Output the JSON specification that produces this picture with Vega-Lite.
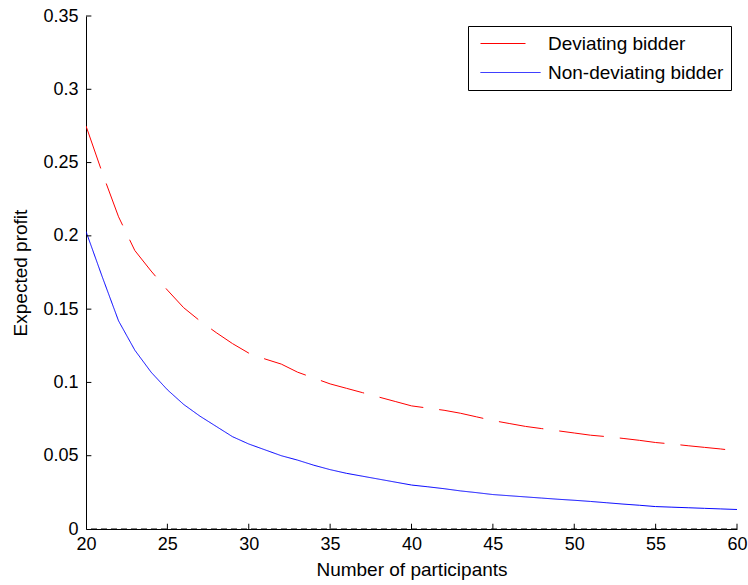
{
  "$schema": "https://vega.github.io/schema/vega-lite/v6.json",
  "width": 651,
  "height": 513,
  "autosize": {"type": "none"},
  "padding": {"left": 86, "top": 16, "right": 11, "bottom": 56},
  "background": "white",
  "config": {
    "view": {"stroke": null},
    "font": "Liberation Sans",
    "axis": {
      "grid": false,
      "domainColor": "#000000",
      "domainWidth": 1,
      "ticks": false,
      "tickSize": 0,
      "labelFont": "Liberation Sans",
      "labelFontSize": 18,
      "labelColor": "#000000",
      "titleFont": "Liberation Sans",
      "titleFontSize": 19,
      "titleFontWeight": "normal",
      "titleColor": "#000000"
    },
    "legend": {
      "labelFont": "Liberation Sans",
      "labelFontSize": 19,
      "labelColor": "#000000"
    }
  },
  "datasets": {
    "curves": [
      {"n": 20, "series": "Deviating bidder", "profit": 0.275},
      {"n": 21, "series": "Deviating bidder", "profit": 0.243},
      {"n": 22, "series": "Deviating bidder", "profit": 0.213},
      {"n": 23, "series": "Deviating bidder", "profit": 0.19},
      {"n": 24, "series": "Deviating bidder", "profit": 0.176},
      {"n": 25, "series": "Deviating bidder", "profit": 0.163},
      {"n": 26, "series": "Deviating bidder", "profit": 0.151},
      {"n": 27, "series": "Deviating bidder", "profit": 0.142},
      {"n": 28, "series": "Deviating bidder", "profit": 0.134},
      {"n": 29, "series": "Deviating bidder", "profit": 0.1265},
      {"n": 30, "series": "Deviating bidder", "profit": 0.12},
      {"n": 31, "series": "Deviating bidder", "profit": 0.116},
      {"n": 32, "series": "Deviating bidder", "profit": 0.1125},
      {"n": 33, "series": "Deviating bidder", "profit": 0.107},
      {"n": 34, "series": "Deviating bidder", "profit": 0.103},
      {"n": 35, "series": "Deviating bidder", "profit": 0.099},
      {"n": 36, "series": "Deviating bidder", "profit": 0.096},
      {"n": 37, "series": "Deviating bidder", "profit": 0.093},
      {"n": 38, "series": "Deviating bidder", "profit": 0.09},
      {"n": 39, "series": "Deviating bidder", "profit": 0.087},
      {"n": 40, "series": "Deviating bidder", "profit": 0.084},
      {"n": 41, "series": "Deviating bidder", "profit": 0.0825},
      {"n": 42, "series": "Deviating bidder", "profit": 0.081},
      {"n": 43, "series": "Deviating bidder", "profit": 0.079},
      {"n": 44, "series": "Deviating bidder", "profit": 0.0765},
      {"n": 45, "series": "Deviating bidder", "profit": 0.074},
      {"n": 46, "series": "Deviating bidder", "profit": 0.072},
      {"n": 47, "series": "Deviating bidder", "profit": 0.07},
      {"n": 48, "series": "Deviating bidder", "profit": 0.0685},
      {"n": 49, "series": "Deviating bidder", "profit": 0.067},
      {"n": 50, "series": "Deviating bidder", "profit": 0.0655},
      {"n": 51, "series": "Deviating bidder", "profit": 0.064},
      {"n": 52, "series": "Deviating bidder", "profit": 0.063},
      {"n": 53, "series": "Deviating bidder", "profit": 0.0618},
      {"n": 54, "series": "Deviating bidder", "profit": 0.0605},
      {"n": 55, "series": "Deviating bidder", "profit": 0.059},
      {"n": 56, "series": "Deviating bidder", "profit": 0.058},
      {"n": 57, "series": "Deviating bidder", "profit": 0.0568},
      {"n": 58, "series": "Deviating bidder", "profit": 0.0557},
      {"n": 59, "series": "Deviating bidder", "profit": 0.0546},
      {"n": 60, "series": "Deviating bidder", "profit": 0.0533},
      {"n": 20, "series": "Non-deviating bidder", "profit": 0.203},
      {"n": 21, "series": "Non-deviating bidder", "profit": 0.172},
      {"n": 22, "series": "Non-deviating bidder", "profit": 0.142},
      {"n": 23, "series": "Non-deviating bidder", "profit": 0.122},
      {"n": 24, "series": "Non-deviating bidder", "profit": 0.107},
      {"n": 25, "series": "Non-deviating bidder", "profit": 0.095},
      {"n": 26, "series": "Non-deviating bidder", "profit": 0.085},
      {"n": 27, "series": "Non-deviating bidder", "profit": 0.077},
      {"n": 28, "series": "Non-deviating bidder", "profit": 0.07},
      {"n": 29, "series": "Non-deviating bidder", "profit": 0.063},
      {"n": 30, "series": "Non-deviating bidder", "profit": 0.058},
      {"n": 31, "series": "Non-deviating bidder", "profit": 0.054},
      {"n": 32, "series": "Non-deviating bidder", "profit": 0.05},
      {"n": 33, "series": "Non-deviating bidder", "profit": 0.047},
      {"n": 34, "series": "Non-deviating bidder", "profit": 0.0435},
      {"n": 35, "series": "Non-deviating bidder", "profit": 0.0405},
      {"n": 36, "series": "Non-deviating bidder", "profit": 0.038},
      {"n": 37, "series": "Non-deviating bidder", "profit": 0.036},
      {"n": 38, "series": "Non-deviating bidder", "profit": 0.034},
      {"n": 39, "series": "Non-deviating bidder", "profit": 0.032},
      {"n": 40, "series": "Non-deviating bidder", "profit": 0.03},
      {"n": 41, "series": "Non-deviating bidder", "profit": 0.0288},
      {"n": 42, "series": "Non-deviating bidder", "profit": 0.0275},
      {"n": 43, "series": "Non-deviating bidder", "profit": 0.026},
      {"n": 44, "series": "Non-deviating bidder", "profit": 0.0248},
      {"n": 45, "series": "Non-deviating bidder", "profit": 0.0235},
      {"n": 46, "series": "Non-deviating bidder", "profit": 0.0227},
      {"n": 47, "series": "Non-deviating bidder", "profit": 0.0219},
      {"n": 48, "series": "Non-deviating bidder", "profit": 0.0211},
      {"n": 49, "series": "Non-deviating bidder", "profit": 0.0203},
      {"n": 50, "series": "Non-deviating bidder", "profit": 0.0196},
      {"n": 51, "series": "Non-deviating bidder", "profit": 0.0188},
      {"n": 52, "series": "Non-deviating bidder", "profit": 0.0179},
      {"n": 53, "series": "Non-deviating bidder", "profit": 0.017},
      {"n": 54, "series": "Non-deviating bidder", "profit": 0.0162},
      {"n": 55, "series": "Non-deviating bidder", "profit": 0.0153},
      {"n": 56, "series": "Non-deviating bidder", "profit": 0.0149},
      {"n": 57, "series": "Non-deviating bidder", "profit": 0.0145},
      {"n": 58, "series": "Non-deviating bidder", "profit": 0.0141},
      {"n": 59, "series": "Non-deviating bidder", "profit": 0.0137},
      {"n": 60, "series": "Non-deviating bidder", "profit": 0.0133}
    ],
    "zero": [{"level": 0}],
    "xticks": [{"t": 25}, {"t": 30}, {"t": 35}, {"t": 40}, {"t": 45}, {"t": 50}, {"t": 55}, {"t": 60}],
    "yticks": [{"t": 0.05}, {"t": 0.1}, {"t": 0.15}, {"t": 0.2}, {"t": 0.25}, {"t": 0.3}, {"t": 0.35}]
  },
  "layer": [
    {
      "data": {"name": "curves"},
      "mark": {"type": "line", "strokeWidth": 1, "clip": true},
      "encoding": {
        "x": {
          "field": "n",
          "type": "quantitative",
          "scale": {"domain": [20, 60], "nice": false, "zero": false},
          "axis": {
            "title": "Number of participants",
            "values": [20, 25, 30, 35, 40, 45, 50, 55, 60],
            "labelPadding": 6,
            "titlePadding": 7,
            "labelFlush": false
          }
        },
        "y": {
          "field": "profit",
          "type": "quantitative",
          "scale": {"domain": [0, 0.35], "nice": false},
          "axis": {
            "title": "Expected profit",
            "values": [0, 0.05, 0.1, 0.15, 0.2, 0.25, 0.3, 0.35],
            "labelExpr": "datum.value === 0 ? '0' : format(datum.value, '.2~f')",
            "labelPadding": 8,
            "titlePadding": 12
          }
        },
        "color": {
          "field": "series",
          "type": "nominal",
          "scale": {"domain": ["Deviating bidder", "Non-deviating bidder"], "range": ["#ff0000", "#0000ff"]},
          "legend": {
            "title": null,
            "orient": "none",
            "legendX": 382,
            "legendY": 10,
            "symbolType": "M-0.5,0H5.5",
            "symbolSize": 400,
            "symbolStrokeWidth": 1,
            "labelOffset": 52,
            "labelLimit": 0,
            "padding": 7,
            "rowPadding": 8,
            "strokeColor": "#000000",
            "fillColor": "#ffffff"
          }
        },
        "strokeDash": {
          "field": "series",
          "type": "nominal",
          "scale": {"domain": ["Deviating bidder", "Non-deviating bidder"], "range": [[45, 16], [1, 0]]},
          "legend": {
            "title": null,
            "orient": "none",
            "legendX": 382,
            "legendY": 10,
            "symbolType": "M-0.5,0H5.5",
            "symbolSize": 400,
            "symbolStrokeWidth": 1,
            "labelOffset": 52,
            "labelLimit": 0,
            "padding": 7,
            "rowPadding": 8,
            "strokeColor": "#000000",
            "fillColor": "#ffffff"
          }
        }
      }
    },
    {
      "data": {"name": "zero"},
      "mark": {"type": "rule", "color": "#000000", "strokeWidth": 1, "strokeDash": [6, 4]},
      "encoding": {
        "y": {"field": "level", "type": "quantitative"}
      }
    },
    {
      "data": {"name": "xticks"},
      "mark": {"type": "rule", "color": "#000000", "strokeWidth": 1},
      "encoding": {
        "x": {"field": "t", "type": "quantitative"},
        "y": {"datum": 0, "type": "quantitative"},
        "y2": {"datum": 0.0036}
      }
    },
    {
      "data": {"name": "yticks"},
      "mark": {"type": "rule", "color": "#000000", "strokeWidth": 1},
      "encoding": {
        "y": {"field": "t", "type": "quantitative"},
        "x": {"datum": 20, "type": "quantitative"},
        "x2": {"datum": 20.33}
      }
    }
  ]
}
